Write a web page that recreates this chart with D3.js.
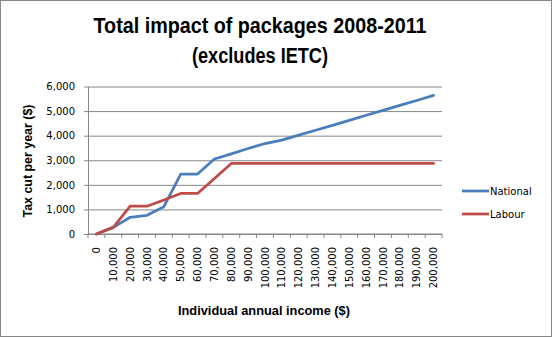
<!DOCTYPE html>
<html>
<head>
<meta charset="utf-8">
<script src="https://cdn.jsdelivr.net/npm/d3@7"></script>
<style>
  body { margin: 0; background: #fff; }
  svg { display: block; }
  .tick text { font-family: "DejaVu Sans", Verdana, sans-serif; font-size: 10px; fill: #000; }
</style>
</head>
<body>
<svg id="chart" width="552" height="337"></svg>
<script>
// income bands (x categories)
var incomes = [0, 10000, 20000, 30000, 40000, 50000, 60000, 70000, 80000, 90000, 100000,
    110000, 120000, 130000, 140000, 150000, 160000, 170000, 180000, 190000, 200000];

// tax cut per year ($)
var national = [0, 270, 680, 760, 1110, 2440, 2440, 3050, 3260, 3480, 3680,
    3820, 4020, 4220, 4420, 4620, 4830, 5030, 5230, 5430, 5640];
var labour = [0, 270, 1130, 1130, 1380, 1650, 1650, 2260, 2870, 2870, 2870,
    2870, 2870, 2870, 2870, 2870, 2870, 2870, 2870, 2870, 2870];

var yTicks = [0, 1000, 2000, 3000, 4000, 5000, 6000];

var seriesNames = ["National", "Labour"];
var seriesColors = ["#4A7EBB", "#BE4B48"];

var plotLeft = 88, plotRight = 442, plotTop = 86.5, plotBottom = 234;

var svg = d3.select("#chart");

// outer chart border
svg.append("rect")
    .attr("x", 0.5).attr("y", 0.5)
    .attr("width", 551).attr("height", 336)
    .attr("fill", "#fff")
    .attr("stroke", "#868686");

var x = d3.scaleBand()
    .domain(incomes)
    .range([plotLeft, plotRight])
    .padding(0);

var y = d3.scaleLinear()
    .domain([0, 6000])
    .range([plotBottom, plotTop]);

// gridlines
svg.append("g")
    .attr("transform", "translate(" + plotLeft + ",0)")
    .call(d3.axisLeft(y).tickValues(yTicks).tickSize(-(plotRight - plotLeft)).tickFormat(""))
    .call(function (g) { g.select(".domain").remove(); })
    .selectAll("line")
    .attr("stroke", "#868686");

// y axis
var yAxis = svg.append("g")
    .attr("transform", "translate(" + plotLeft + ",0)")
    .call(d3.axisLeft(y).tickValues(yTicks).tickSize(4).tickSizeOuter(0).tickPadding(9).tickFormat(d3.format(",")));
yAxis.select(".domain").attr("stroke", "#868686");
yAxis.selectAll(".tick line").attr("stroke", "#868686");

// x axis: tick marks between categories
var xAxis = svg.append("g")
    .attr("transform", "translate(0," + plotBottom + ")");
xAxis.append("line")
    .attr("x1", plotLeft).attr("x2", plotRight)
    .attr("stroke", "#868686");
xAxis.selectAll("line.tk")
    .data(incomes.concat(["end"]))
    .enter().append("line")
    .attr("class", "tk")
    .attr("x1", function (d) { return d === "end" ? plotRight : x(d); })
    .attr("x2", function (d) { return d === "end" ? plotRight : x(d); })
    .attr("y1", 0).attr("y2", 4)
    .attr("stroke", "#868686");
xAxis.selectAll("text")
    .data(incomes)
    .enter().append("text")
    .attr("transform", function (d) {
        return "translate(" + (x(d) + x.bandwidth() / 2 + 3.5) + ",13) rotate(-90)";
    })
    .attr("text-anchor", "end")
    .style("font-family", "'DejaVu Sans', Verdana, sans-serif")
    .style("font-size", "10px")
    .text(d3.format(","));

// series lines
var line = d3.line()
    .x(function (d, i) { return x(incomes[i]) + x.bandwidth() / 2; })
    .y(function (d) { return y(d); });

[national, labour].forEach(function (s, k) {
    svg.append("path")
        .datum(s)
        .attr("d", line)
        .attr("fill", "none")
        .attr("stroke", seriesColors[k])
        .attr("stroke-width", 2.75)
        .attr("stroke-linejoin", "round")
        .attr("stroke-linecap", "round");
});

// legend
var legend = svg.selectAll("g.legend")
    .data(seriesNames)
    .enter().append("g")
    .attr("class", "legend")
    .attr("transform", function (d, i) { return "translate(462," + (191 + i * 23) + ")"; });
legend.append("line")
    .attr("x1", 0).attr("x2", 27)
    .attr("stroke", function (d, i) { return seriesColors[i]; })
    .attr("stroke-width", 2.75);
legend.append("text")
    .attr("x", 28).attr("y", 4)
    .style("font-family", "'DejaVu Sans', Verdana, sans-serif")
    .style("font-size", "10px")
    .text(function (d) { return d; });

// titles
var title = svg.append("text")
    .attr("text-anchor", "middle")
    .style("font-family", "'Liberation Sans', Arial, sans-serif")
    .style("font-weight", "bold")
    .style("font-size", "22px");
title.append("tspan").attr("x", 260).attr("y", 33)
    .attr("textLength", 333).attr("lengthAdjust", "spacingAndGlyphs")
    .text("Total impact of packages 2008-2011");
title.append("tspan").attr("x", 260).attr("y", 63)
    .attr("textLength", 136).attr("lengthAdjust", "spacingAndGlyphs")
    .text("(excludes IETC)");

svg.append("text")
    .attr("transform", "translate(32,161) rotate(-90)")
    .attr("text-anchor", "middle")
    .attr("textLength", 113).attr("lengthAdjust", "spacingAndGlyphs")
    .style("font-family", "'Liberation Sans', Arial, sans-serif")
    .style("font-weight", "bold")
    .style("font-size", "13px")
    .text("Tax cut per year ($)");

svg.append("text")
    .attr("x", 264).attr("y", 315)
    .attr("text-anchor", "middle")
    .attr("textLength", 172).attr("lengthAdjust", "spacingAndGlyphs")
    .style("font-family", "'Liberation Sans', Arial, sans-serif")
    .style("font-weight", "bold")
    .style("font-size", "13px")
    .text("Individual annual income ($)");
</script>
</body>
</html>
